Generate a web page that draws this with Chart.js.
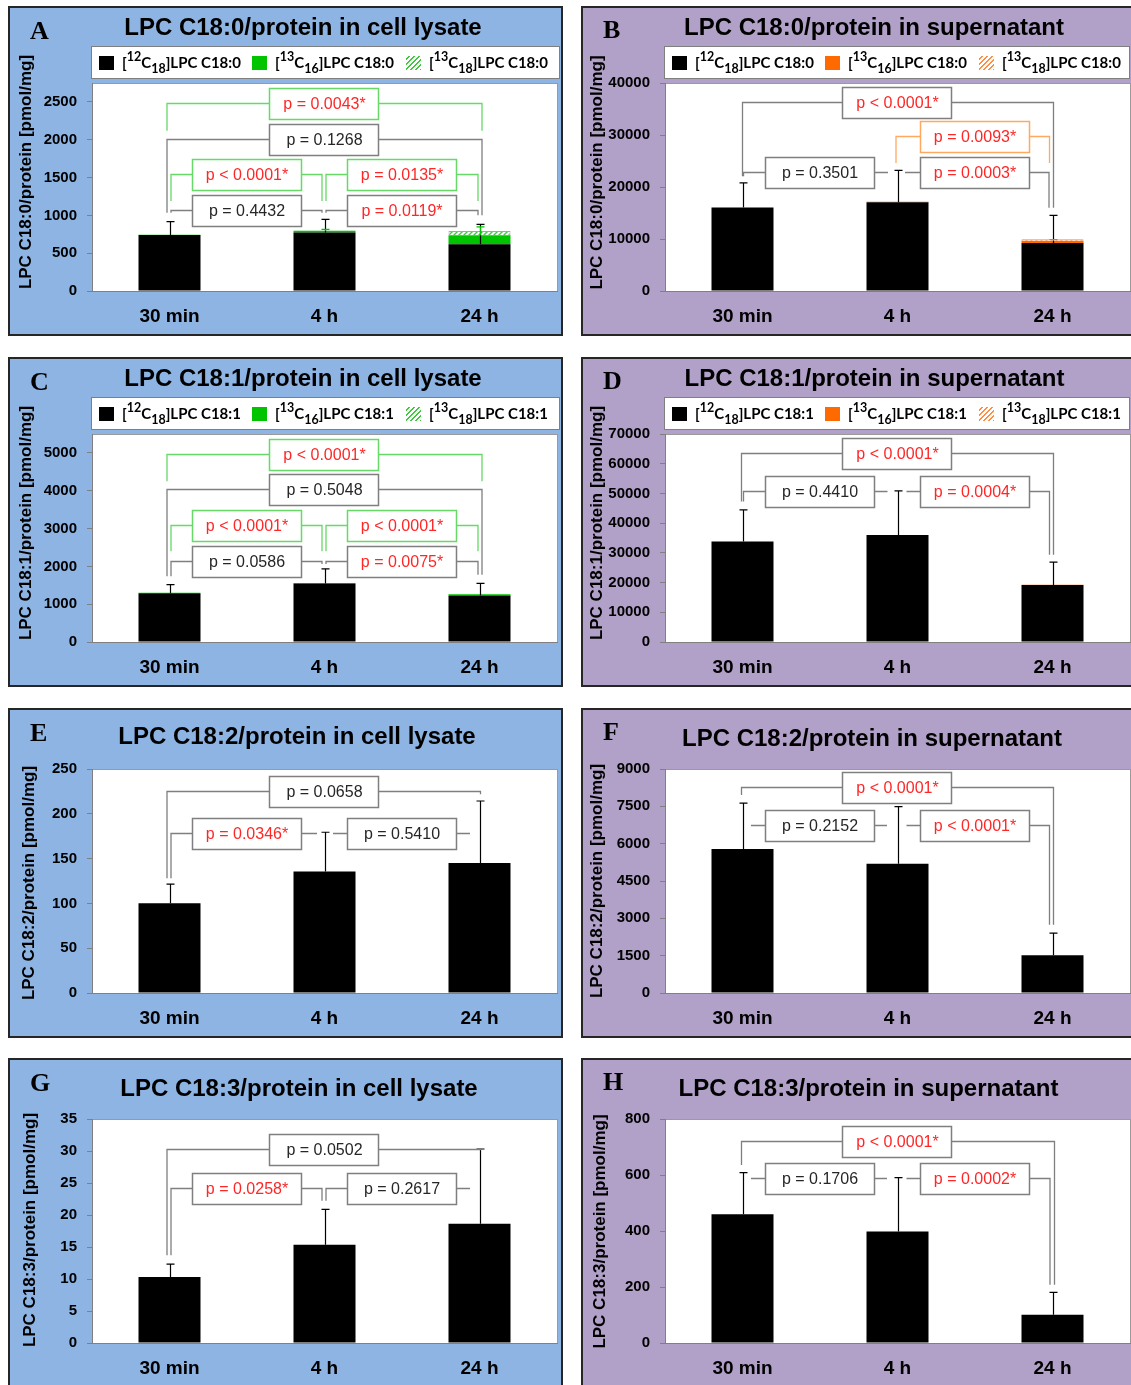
<!DOCTYPE html>
<html>
<head>
<meta charset="utf-8">
<script src="https://cdn.jsdelivr.net/npm/chart.js@4.4.1/dist/chart.umd.min.js"></script>
<style>
  body { margin: 0; width: 1131px; height: 1385px; overflow: hidden; background: #fff; position: relative; }
  .panel { position: absolute; height: 330px; box-shadow: inset 0 0 0 2px #262626; }
  .lysate { background: #8DB4E2; }
  .super { background: #B1A0C7; }
  .panel canvas { position: absolute; left: 0; top: 0; }
  .letter { position: absolute; font: bold 26px "Liberation Serif"; line-height: 26px; color: #000; }
  .title { position: absolute; font: bold 24px "Liberation Sans"; line-height: 24px; white-space: nowrap; transform: translateX(-50%); color: #000; }
  .legend { position: absolute; left: 83px; top: 40px; height: 33px; box-sizing: border-box; background: #fff; border: 1px solid #7f7f7f; }
  .item { position: absolute; top: 0; height: 31px; white-space: nowrap; }
  .sw { position: absolute; left: 0; top: 9px; width: 15px; height: 14px; box-sizing: border-box; }
  .lt { position: absolute; left: 23px; top: 7px; font: bold 15px Lato; line-height: 17px; color: #000; }
  .lt .sup { font-size: 12.5px; position: relative; top: -7px; }
  .lt .sub { font-size: 12.5px; position: relative; top: 5px; }
</style>
</head>
<body>
<script>
const timePoints = ['30 min', '4 h', '24 h'];
const isotopes = [['12', '18'], ['13', '16'], ['13', '18']];

// A: LPC C18:0, cell lysate
const a12C18 = [740, 775, 618];
const a13C16 = [5, 20, 120];
const a13C18 = [0, 5, 55];
const a12C18Sd = [177, 172, 264];
const a13C16Sd = [0, 20, 110];
const aTicks = [0, 500, 1000, 1500, 2000, 2500];
const aPValues = ['p = 0.0043*', 'p = 0.1268', 'p < 0.0001*', 'p = 0.0135*', 'p = 0.4432', 'p = 0.0119*'];

// B: LPC C18:0, supernatant
const b12C18 = [16070, 17050, 9250];
const b13C16 = [0, 120, 400];
const b13C18 = [0, 0, 300];
const b12C18Sd = [4730, 6150, 5300];
const b13C16Sd = [0, 0, 250];
const bTicks = [0, 10000, 20000, 30000, 40000];
const bPValues = ['p < 0.0001*', 'p = 0.0093*', 'p = 0.3501', 'p = 0.0003*'];

// C: LPC C18:1, cell lysate
const c12C18 = [1290, 1545, 1230];
const c13C16 = [15, 16, 35];
const c13C18 = [0, 0, 14];
const c12C18Sd = [227, 386, 322];
const c13C16Sd = [0, 0, 0];
const cTicks = [0, 1000, 2000, 3000, 4000, 5000];
const cPValues = ['p < 0.0001*', 'p = 0.5048', 'p < 0.0001*', 'p < 0.0001*', 'p = 0.0586', 'p = 0.0075*'];

// D: LPC C18:1, supernatant
const d12C18 = [33800, 36050, 19150];
const d13C16 = [0, 0, 100];
const d13C18 = [0, 0, 0];
const d12C18Sd = [10660, 14800, 7730];
const d13C16Sd = [0, 0, 0];
const dTicks = [0, 10000, 20000, 30000, 40000, 50000, 60000, 70000];
const dPValues = ['p < 0.0001*', 'p = 0.4410', 'p = 0.0004*'];

// E: LPC C18:2, cell lysate
const eValues = [100.3, 135.6, 145.2];
const eSd = [21.2, 43.8, 69.1];
const eTicks = [0, 50, 100, 150, 200, 250];
const ePValues = ['p = 0.0658', 'p = 0.0346*', 'p = 0.5410'];

// F: LPC C18:2, supernatant
const fValues = [5790, 5190, 1520];
const fSd = [1836, 2302, 887];
const fTicks = [0, 1500, 3000, 4500, 6000, 7500, 9000];
const fPValues = ['p < 0.0001*', 'p = 0.2152', 'p < 0.0001*'];

// G: LPC C18:3, cell lysate
const gValues = [10.33, 15.34, 18.62];
const gSd = [1.98, 5.53, 11.69];
const gTicks = [0, 5, 10, 15, 20, 25, 30, 35];
const gPValues = ['p = 0.0502', 'p = 0.0258*', 'p = 0.2617'];

// H: LPC C18:3, supernatant
const hValues = [460, 398, 101];
const hSd = [148.6, 192.8, 79.7];
const hTicks = [0, 200, 400, 600, 800];
const hPValues = ['p < 0.0001*', 'p = 0.1706', 'p = 0.0002*'];

// significance brackets (annotation layout):
// [from, to, level, leg end at from, leg end at to, px shift at from, px shift at to, line colour]
const aBrackets = [
  [0, 2, 2490, 2120, 2120, -2.5, 2.5, 'g'],
  [0, 2, 2010, 1035, 1000, -2.5, 2.5, 'k'],
  [0, 1, 1553, 1190, 1190, 1.5, -2.5, 'g'],
  [1, 2, 1553, 1190, 1190, 1.5, -1.5, 'g'],
  [0, 1, 1070, 1035, 1035, 1.5, -2.5, 'k'],
  [1, 2, 1070, 1035, 1000, 1.5, -1.5, 'k']
];
const bBrackets = [
  [0, 2, 36420, 22070, 16020, 0, 1, 'k'],
  [1, 2, 29720, 24630, 24630, -1.5, -3, 'o'],
  [0, 1, 22830, 22070, null, 1, -9.5, 'k'],
  [1, 2, 22830, null, 16020, 7.5, -3.5, 'k']
];
const cBrackets = [
  [0, 2, 4982, 4250, 4250, -2.5, 2.5, 'g'],
  [0, 2, 4048, 1737, 1781, -2.5, 2.5, 'k'],
  [0, 1, 3104, 2400, 2400, 1.5, -2.5, 'g'],
  [1, 2, 3104, 2400, 2400, 1.5, -1.5, 'g'],
  [0, 1, 2152, 1737, 2063, 1.5, -2.5, 'k'],
  [1, 2, 2152, 2063, 1781, 1.5, -1.5, 'k']
];
const dBrackets = [
  [0, 2, 63730, 47250, 29340, -1, 1, 'k'],
  [0, 1, 50850, 47250, null, 1, -10, 'k'],
  [1, 2, 50850, null, 29340, 9, -3, 'k']
];
const eBrackets = [
  [0, 2, 225.5, 128.2, 221.8, -2.5, 1, 'k'],
  [0, 1, 179, 128.2, null, 1.5, -7.5, 'k'],
  [1, 2, 179, null, null, 8.5, -9.5, 'k']
];
const fBrackets = [
  [0, 2, 8266, 7958, 2742, -1, 1, 'k'],
  [0, 1, 6756, null, null, 8.5, -10.5, 'k'],
  [1, 2, 6756, null, 2742, 9, -3, 'k']
];
const gBrackets = [
  [0, 2, 30.3, 13.72, null, -2.5, 1.5, 'k'],
  [0, 1, 24.26, 13.72, 22.22, 1.5, -2.5, 'k'],
  [1, 2, 24.26, 22.22, null, 1.5, -9.5, 'k']
];
const hBrackets = [
  [0, 2, 721.6, 636, 208, -1, 2, 'k'],
  [0, 1, 590.8, null, null, 8.5, -10.5, 'k'],
  [1, 2, 590.8, null, 208, 9, -2.5, 'k']
];

const LINE = { k: '#7F7F7F', g: '#66D966', o: '#FFA860' };
const RED = '#FF2626';

function hatch(color) {
  const c = document.createElement('canvas');
  c.width = 5; c.height = 5;
  const x = c.getContext('2d');
  x.fillStyle = '#fff'; x.fillRect(0, 0, 5, 5);
  x.strokeStyle = color; x.lineWidth = 1.4;
  x.beginPath();
  x.moveTo(-1, 6); x.lineTo(6, -1);
  x.moveTo(-1, 1); x.lineTo(1, -1);
  x.moveTo(4, 6); x.lineTo(6, 4);
  x.stroke();
  return x.createPattern(c, 'repeat');
}

const panels = [
  { id: 'A', side: 'lysate', left: 8, top: 6, width: 555, plotTop: 77, max: 2750, ticks: aTicks,
    title: 'LPC C18:0/protein in cell lysate', titleX: 295, titleY: 21, lipid: 'LPC C18:0',
    yTitle: 'LPC C18:0/protein [pmol/mg]', yTitleX: 18, yTitleY: 166,
    series: [a12C18, a13C16, a13C18], sd: [a12C18Sd, a13C16Sd, null], brackets: aBrackets, pValues: aPValues },
  { id: 'B', side: 'super', left: 581, top: 6, width: 560, plotTop: 77, max: 40000, ticks: bTicks,
    title: 'LPC C18:0/protein in supernatant', titleX: 293, titleY: 21, lipid: 'LPC C18:0',
    yTitle: 'LPC C18:0/protein [pmol/mg]', yTitleX: 16, yTitleY: 166.5,
    series: [b12C18, b13C16, b13C18], sd: [b12C18Sd, b13C16Sd, null], brackets: bBrackets, pValues: bPValues },
  { id: 'C', side: 'lysate', left: 8, top: 357, width: 555, plotTop: 77, max: 5500, ticks: cTicks,
    title: 'LPC C18:1/protein in cell lysate', titleX: 295, titleY: 21, lipid: 'LPC C18:1',
    yTitle: 'LPC C18:1/protein [pmol/mg]', yTitleX: 18, yTitleY: 166,
    series: [c12C18, c13C16, c13C18], sd: [c12C18Sd, c13C16Sd, null], brackets: cBrackets, pValues: cPValues },
  { id: 'D', side: 'super', left: 581, top: 357, width: 560, plotTop: 77, max: 70000, ticks: dTicks,
    title: 'LPC C18:1/protein in supernatant', titleX: 293.5, titleY: 21, lipid: 'LPC C18:1',
    yTitle: 'LPC C18:1/protein [pmol/mg]', yTitleX: 16, yTitleY: 166,
    series: [d12C18, d13C16, d13C18], sd: [d12C18Sd, d13C16Sd, null], brackets: dBrackets, pValues: dPValues },
  { id: 'E', side: 'lysate', left: 8, top: 708, width: 555, plotTop: 61, max: 250, ticks: eTicks,
    title: 'LPC C18:2/protein in cell lysate', titleX: 289, titleY: 28,
    yTitle: 'LPC C18:2/protein [pmol/mg]', yTitleX: 21, yTitleY: 175,
    series: [eValues], sd: [eSd], brackets: eBrackets, pValues: ePValues },
  { id: 'F', side: 'super', left: 581, top: 708, width: 560, plotTop: 61, max: 9000, ticks: fTicks,
    title: 'LPC C18:2/protein in supernatant', titleX: 291, titleY: 30,
    yTitle: 'LPC C18:2/protein [pmol/mg]', yTitleX: 16, yTitleY: 173,
    series: [fValues], sd: [fSd], brackets: fBrackets, pValues: fPValues },
  { id: 'G', side: 'lysate', left: 8, top: 1058, width: 555, plotTop: 61, max: 35, ticks: gTicks,
    title: 'LPC C18:3/protein in cell lysate', titleX: 291, titleY: 30,
    yTitle: 'LPC C18:3/protein [pmol/mg]', yTitleX: 22, yTitleY: 172,
    series: [gValues], sd: [gSd], brackets: gBrackets, pValues: gPValues },
  { id: 'H', side: 'super', left: 581, top: 1058, width: 560, plotTop: 61, max: 800, ticks: hTicks,
    title: 'LPC C18:3/protein in supernatant', titleX: 287.5, titleY: 30,
    yTitle: 'LPC C18:3/protein [pmol/mg]', yTitleX: 19, yTitleY: 173.5,
    series: [hValues], sd: [hSd], brackets: hBrackets, pValues: hPValues }
];

// plot background, error bars, brackets and the y title
function panelPlugin(p) {
  return {
    id: 'panel' + p.id,
    beforeDraw(chart) {
      const { ctx, chartArea: a } = chart;
      ctx.save();
      ctx.fillStyle = '#fff';
      ctx.fillRect(a.left, a.top, a.right - a.left, a.bottom - a.top);
      ctx.strokeStyle = '#9a9a9a';
      ctx.lineWidth = 1;
      ctx.strokeRect(a.left + 0.5, a.top + 0.5, a.right - a.left, a.bottom - a.top);
      ctx.restore();
    },
    afterDatasetsDraw(chart) {
      const { ctx, scales: { x, y } } = chart;
      ctx.save();
      // error bars, each from the top of its own segment
      chart.data.datasets.forEach((ds, di) => {
        if (!ds.sd) return;
        chart.getDatasetMeta(di).data.forEach((bar, i) => {
          const sd = ds.sd[i];
          if (!sd) return;
          let cum = 0;
          for (let k = 0; k <= di; k++) cum += chart.data.datasets[k].data[i];
          const y0 = y.getPixelForValue(cum), y1 = y.getPixelForValue(cum + sd);
          const bx = Math.round(bar.x) + 0.5;
          ctx.strokeStyle = ds.sdColor;
          ctx.lineWidth = 1.2;
          ctx.beginPath();
          ctx.moveTo(bx, y0); ctx.lineTo(bx, y1);
          ctx.moveTo(bx - 4, y1); ctx.lineTo(bx + 4, y1);
          ctx.stroke();
        });
      });
      // brackets
      p.brackets.forEach((b, k) => {
        const [from, to, level, legA, legB, dxA, dxB, col] = b;
        const x1 = x.getPixelForValue(from) + dxA, x2 = x.getPixelForValue(to) + dxB;
        const yl = Math.round(y.getPixelForValue(level)) + 0.5;
        ctx.strokeStyle = LINE[col];
        ctx.lineWidth = 1.3;
        ctx.beginPath();
        if (legA != null) { ctx.moveTo(x1, y.getPixelForValue(legA)); ctx.lineTo(x1, yl); }
        else ctx.moveTo(x1, yl);
        ctx.lineTo(x2, yl);
        if (legB != null) ctx.lineTo(x2, y.getPixelForValue(legB));
        ctx.stroke();
        const cx = (x.getPixelForValue(from) + x.getPixelForValue(to)) / 2 - 1;
        const bw = 109, bh = 31;
        const bxl = Math.round(cx - bw / 2) + 0.5, byt = Math.round(yl - bh / 2) + 0.5;
        ctx.fillStyle = '#fff';
        ctx.fillRect(bxl, byt, bw, bh);
        ctx.lineWidth = 1.5;
        ctx.strokeRect(bxl, byt, bw, bh);
        const txt = p.pValues[k];
        ctx.fillStyle = txt.endsWith('*') ? RED : '#262626';
        ctx.font = '16px "Liberation Sans"';
        ctx.textAlign = 'center';
        ctx.textBaseline = 'middle';
        ctx.fillText(txt, cx + 1, yl + 1);
      });
      // y axis title
      ctx.translate(p.yTitleX, p.yTitleY);
      ctx.rotate(-Math.PI / 2);
      ctx.fillStyle = '#000';
      ctx.font = 'bold 17px "Liberation Sans"';
      ctx.textAlign = 'center';
      ctx.textBaseline = 'middle';
      ctx.fillText(p.yTitle, 0, 0);
      ctx.restore();
    }
  };
}

function legendHtml(p, swatches) {
  const offsets = [7, 160, 314];
  const items = isotopes.map(([mass, n], i) =>
    `<div class="item" style="left:${offsets[i]}px"><span class="sw" style="background:${swatches[i]}"></span>` +
    `<span class="lt">[<span class="sup">${mass}</span>C<span class="sub">${n}</span>]${p.lipid}</span></div>`);
  return `<div class="legend" style="width:${p.width === 555 ? 469 : 466}px">${items.join('')}</div>`;
}

panels.forEach(p => {
  const div = document.createElement('div');
  div.className = 'panel ' + p.side;
  div.style.left = p.left + 'px';
  div.style.top = p.top + 'px';
  div.style.width = p.width + 'px';
  const canvas = document.createElement('canvas');
  canvas.width = p.width; canvas.height = 330;
  div.appendChild(canvas);
  document.body.appendChild(div);

  const accent = p.side === 'lysate' ? '#00C400' : '#FF6A00';
  const hatchCol = p.side === 'lysate' ? '#40C840' : '#FF8C40';
  const cssHatch = `repeating-linear-gradient(135deg, #fff 0 2px, ${hatchCol} 2px 3.5px)`;
  const fills = ['#000', accent, hatch(hatchCol)];

  const datasets = p.series.map((data, i) => ({
    label: `[${isotopes[i][0]}C${isotopes[i][1]}]${p.lipid || ''}`,
    data,
    backgroundColor: fills[i],
    borderColor: '#a6a6a6',
    borderWidth: i === 2 ? 1 : 0,
    barPercentage: 0.4,
    categoryPercentage: 1,
    sd: p.sd[i],
    sdColor: i === 1 ? accent : '#000'
  }));

  new Chart(canvas, {
    type: 'bar',
    data: { labels: timePoints, datasets },
    options: {
      responsive: false,
      animation: false,
      devicePixelRatio: 1,
      layout: { padding: { top: p.plotTop, right: p.width - 549, left: 0, bottom: 0 } },
      plugins: { legend: { display: false }, tooltip: { enabled: false } },
      scales: {
        x: {
          stacked: true,
          grid: { display: false },
          border: { color: '#808080', width: 1 },
          ticks: { color: '#000', padding: 6, font: { family: 'Liberation Sans', weight: 'bold', size: 19 } },
          afterFit: s => { s.height = 45; }
        },
        y: {
          stacked: true,
          min: 0,
          max: p.max,
          afterBuildTicks: s => { s.ticks = p.ticks.map(v => ({ value: v })); },
          afterFit: s => { s.width = 84; },
          grid: { drawOnChartArea: false, tickLength: 5, color: '#808080' },
          border: { color: '#808080', width: 1 },
          ticks: {
            color: '#000', padding: 10, font: { family: 'Liberation Sans', weight: 'bold', size: 15 },
            callback: v => String(v)
          }
        }
      }
    },
    plugins: [panelPlugin(p)]
  });

  const letter = document.createElement('div');
  letter.className = 'letter';
  letter.textContent = p.id;
  letter.style.left = '22px';
  letter.style.top = (p.side === 'lysate' ? 12 : 11) + 'px';
  div.appendChild(letter);

  const title = document.createElement('div');
  title.className = 'title';
  title.textContent = p.title;
  title.style.left = p.titleX + 'px';
  title.style.top = (p.titleY - 12) + 'px';
  div.appendChild(title);

  if (p.lipid) div.insertAdjacentHTML('beforeend', legendHtml(p, ['#000', accent, cssHatch]));
});
</script>
</body>
</html>
